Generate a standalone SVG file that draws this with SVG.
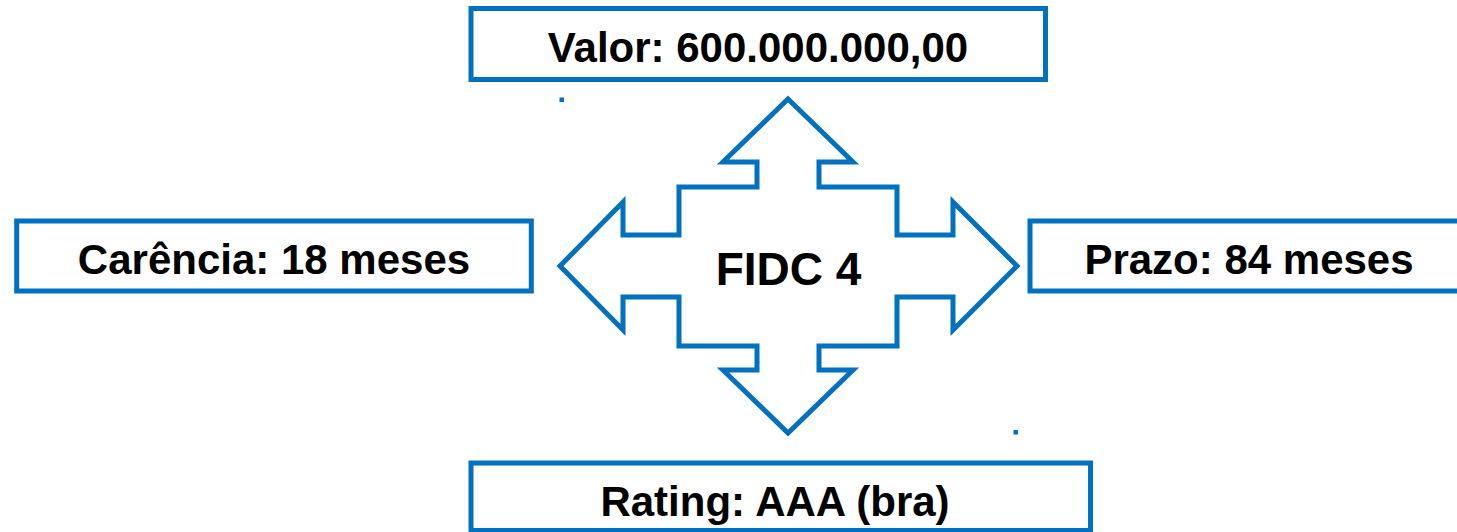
<svg xmlns="http://www.w3.org/2000/svg" width="1457" height="532" viewBox="0 0 1457 532">
  <style>
    .box { fill: #ffffff; stroke: #0070C0; stroke-width: 5; }
    .lbl { font-family: "Liberation Sans", Arial, sans-serif; font-weight: bold; font-size: 42px; fill: #000000; text-anchor: middle; }
    .center { font-size: 46px; }
    .dot { fill: #0070C0; }
  </style>
  <rect width="1457" height="532" fill="#ffffff"/>
  <g id="connectors">
    <path id="cross" d="M788,99 L853,162 L819,162 L819,187 L897,187 L897,235 L953,235 L953,202 L1017,266 L953,330 L953,297 L897,297 L897,346 L819,346 L819,370 L853,370 L788,433 L723,370 L757,370 L757,346 L679,346 L679,297 L623,297 L623,330 L560,266 L623,202 L623,235 L679,235 L679,187 L757,187 L757,162 L723,162 Z" fill="#ffffff" stroke="#0070C0" stroke-width="5" stroke-linejoin="miter"/>
  </g>
  <g id="fidc">
    <text class="lbl center" x="788.5" y="285">FIDC 4</text>
  </g>
  <g id="valor">
    <rect class="box" x="471" y="8.5" width="574.5" height="71"/>
    <text class="lbl" x="758" y="62">Valor: 600.000.000,00</text>
  </g>
  <g id="carencia">
    <rect class="box" x="16.7" y="221" width="514.6" height="70"/>
    <text class="lbl" x="274" y="273.5">Carência: 18 meses</text>
  </g>
  <g id="prazo">
    <rect class="box" x="1030" y="221" width="440" height="70"/>
    <text class="lbl" x="1249" y="273.5">Prazo: 84 meses</text>
  </g>
  <g id="rating">
    <rect class="box" x="471" y="463" width="619.5" height="67.5"/>
    <text class="lbl" x="775" y="515.7">Rating: AAA (bra)</text>
  </g>
  <rect class="dot" x="559.5" y="97.5" width="4.5" height="4.5"/>
  <rect class="dot" x="1013.5" y="430" width="4.5" height="4.5"/>
</svg>
